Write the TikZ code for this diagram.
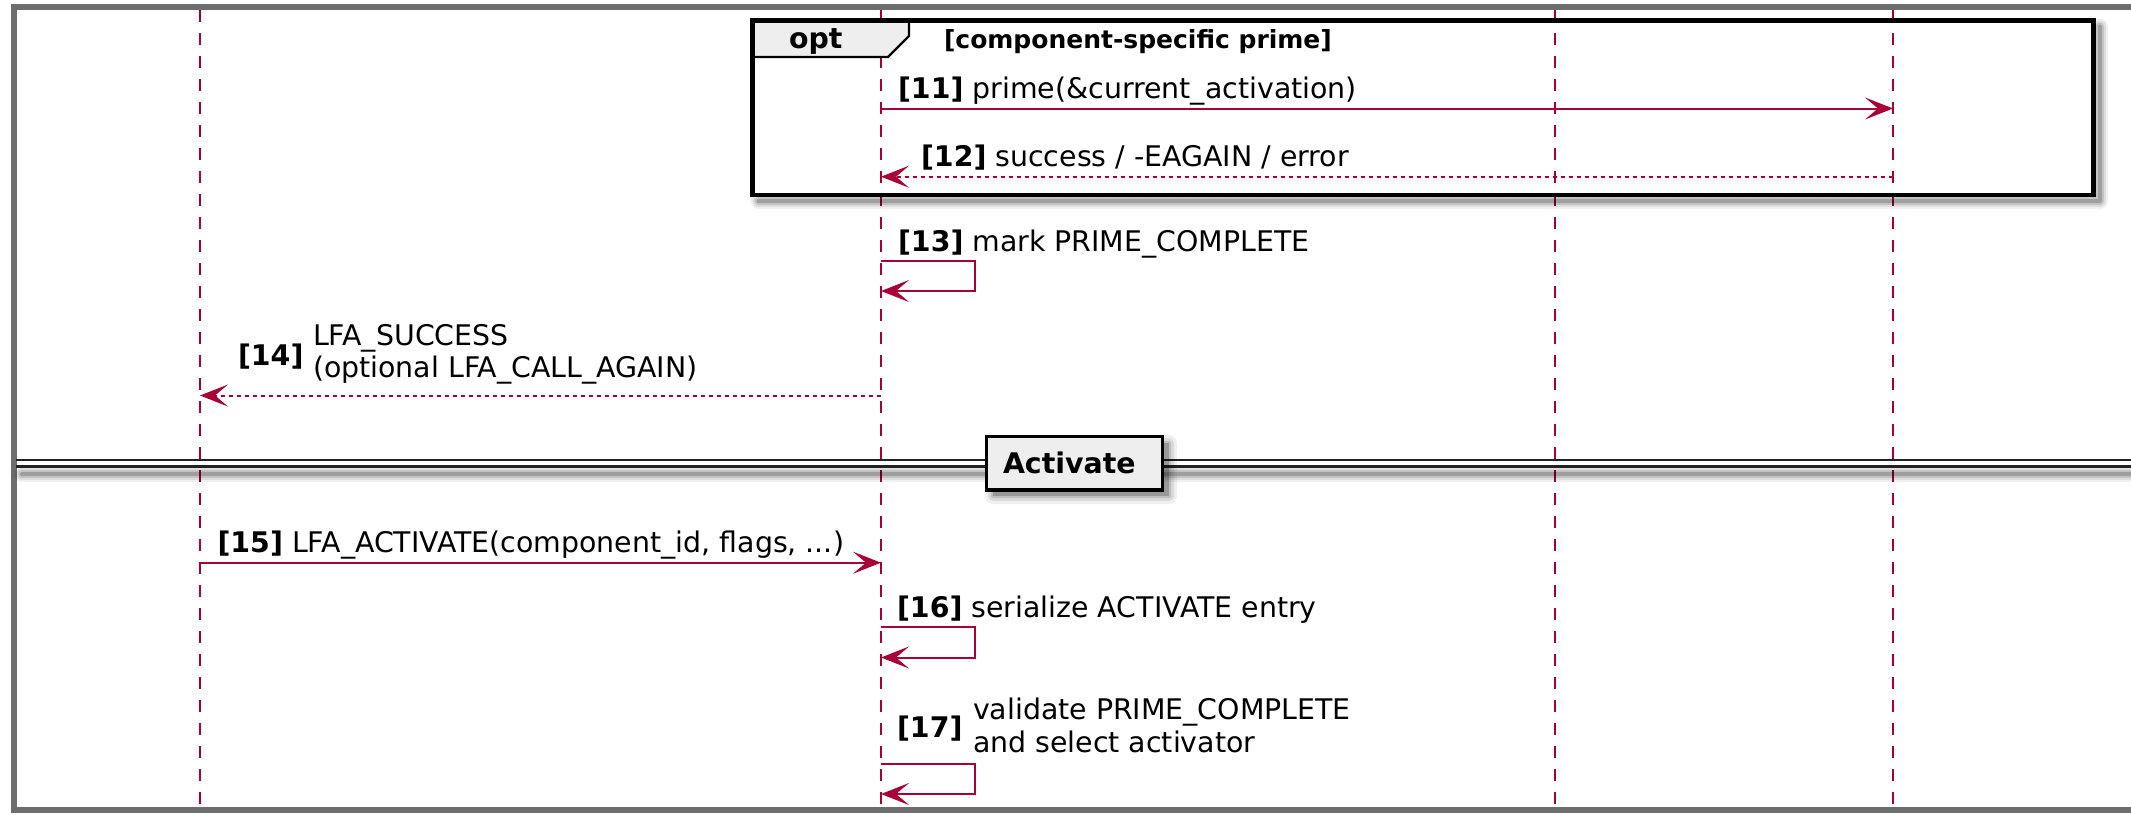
\documentclass[tikz,border=0pt]{standalone}
\usepackage{fontspec}
\setmainfont{DejaVu Sans}
\usetikzlibrary{arrows.meta}

\definecolor{seqred}{HTML}{A80036}
\definecolor{framegray}{HTML}{6D6D6D}
\definecolor{tabgray}{HTML}{EEEEEE}
\definecolor{divgray}{HTML}{222222}

\newcommand{\msgfont}{\fontsize{28.4}{32}\selectfont}
\newcommand{\guardfont}{\fontsize{25}{28}\selectfont\bfseries}

% blurred drop shadow along an open path
\newcommand{\softshadow}[1]{%
  \foreach \w/\o in {16/0.06,12/0.08,8/0.12,4/0.18}{%
    \draw[black, opacity=\o, line width=\w pt, line join=round, line cap=round] #1;}}

\tikzset{
  lifeline/.style={seqred, line width=2pt, dash pattern=on 12pt off 11pt},
  call/.style={seqred, line width=2pt, -{Stealth[length=28pt,width=22pt,inset=13pt]}},
  ret/.style={call, dash pattern=on 4pt off 4pt},
  lbl/.style={anchor=base west, inner sep=0pt, outer sep=0pt, font=\msgfont, text=black},
  numlbl/.style={lbl, font=\msgfont\bfseries},
  grouplbl/.style={anchor=base west, inner sep=0pt, outer sep=0pt, font=\guardfont, text=black},
  divline/.style={divgray, line width=2.8pt},
  dividerbox/.style={draw=black, line width=3.5pt, fill=tabgray, inner sep=0pt, outer sep=0pt},
}

\begin{document}
\begin{tikzpicture}[x=1pt,y=-1pt]
\useasboundingbox (0,0) rectangle (2131,814);
\clip (0,0) rectangle (2131,814);

% participants' lifelines
\coordinate (topA) at (200,10);  \coordinate (botA) at (200,807);
\coordinate (topB) at (881,10);  \coordinate (botB) at (881,807);
\coordinate (topC) at (1555,10); \coordinate (botC) at (1555,807);
\coordinate (topD) at (1893,10); \coordinate (botD) at (1893,807);
\draw[lifeline] (topA) -- (botA);
\draw[lifeline] (topB) -- (botB);
\draw[lifeline] (topC) -- (botC);
\draw[lifeline] (topD) -- (botD);

% outer frame
\draw[framegray, line width=6pt] (13.8,7) rectangle (2200,810);

% opt fragment
\softshadow{(2099.5,26.5) -- (2099.5,201) -- (758.5,201)}
\draw[fill=tabgray, line width=2.2pt, line join=miter]
  (752.5,20.5) -- (909,20.5) -- (909,36) -- (888,57) -- (752.5,57) -- cycle;
\draw[black, line width=4.5pt] (752.5,20.5) rectangle (2093.5,195);
\node[grouplbl, font=\msgfont\bfseries] (optkw) at (789,48) {opt};
\node[grouplbl] (optguard) at (944,48) {[component-specific prime]};

% [11]
\coordinate (m11s) at (881,108.5); \coordinate (m11e) at (1893,108.5);
\draw[call] (m11s) -- (m11e);
\node[lbl] (t11) at (898,98) {\textbf{[11]} prime(\&current\_activation)};

% [12]
\coordinate (m12s) at (1893,176.7); \coordinate (m12e) at (881,176.7);
\draw[ret] (m12s) -- (m12e);
\node[lbl] (t12) at (921,166) {\textbf{[12]} success / -EAGAIN / error};

% [13] self call
\coordinate (m13s) at (881,261); \coordinate (m13e) at (881,291);
\draw[call] (m13s) -- ++(94,0) |- (m13e);
\node[lbl] (t13) at (898,251) {\textbf{[13]} mark PRIME\_COMPLETE};

% [14]
\coordinate (m14s) at (881,395.5); \coordinate (m14e) at (200,395.5);
\draw[ret] (m14s) -- (m14e);
\node[numlbl] (n14) at (238,365) {[14]};
\node[lbl] (t14a) at (313,345) {LFA\_SUCCESS};
\node[lbl] (t14b) at (313,377) {(optional LFA\_CALL\_AGAIN)};

% divider
\softshadow{(22,474) -- (2140,474)}
\draw[divline] (16,460) -- (2131,460);
\draw[divline] (16,466.7) -- (2131,466.7);
\foreach \g/\o in {8/0.06,5/0.09,2/0.13,0/0.2}{%
  \fill[black, opacity=\o, rounded corners=\g pt] (993-\g,443-\g) rectangle (1169+\g,496+\g);}
\node[dividerbox, anchor=north west, minimum width=176pt, minimum height=53.3pt] (divbox) at (986.7,436.7) {};
\node[lbl, font=\msgfont\bfseries] (divlbl) at (1003,473) {Activate};

% [15]
\coordinate (m15s) at (200,562.7); \coordinate (m15e) at (881,562.7);
\draw[call] (m15s) -- (m15e);
\node[lbl] (t15) at (217.5,552) {\textbf{[15]} LFA\_ACTIVATE(component\_id, flags, ...)};

% [16] self call
\coordinate (m16s) at (881,626.5); \coordinate (m16e) at (881,657.5);
\draw[call] (m16s) -- ++(94,0) |- (m16e);
\node[lbl] (t16) at (897,617) {\textbf{[16]} serialize ACTIVATE entry};

% [17] self call
\coordinate (m17s) at (881,764); \coordinate (m17e) at (881,794);
\draw[call] (m17s) -- ++(94,0) |- (m17e);
\node[numlbl] (n17) at (897,737) {[17]};
\node[lbl] (t17a) at (973,719.5) {validate PRIME\_COMPLETE};
\node[lbl] (t17b) at (973,752) {and select activator};
\end{tikzpicture}
\end{document}
